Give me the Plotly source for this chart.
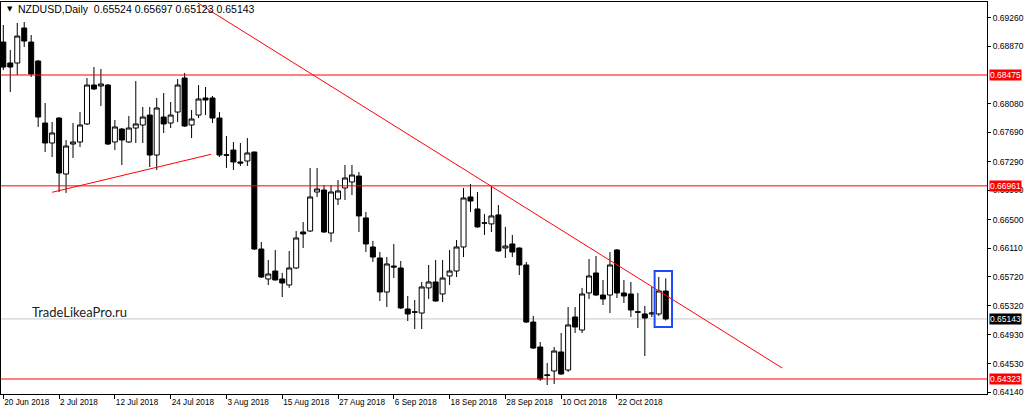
import pandas as pd
import plotly.graph_objects as go

# daily bars, NZDUSD, 20 Jun 2018 .. 31 Oct 2018 (weekdays)
dates = pd.bdate_range("2018-06-20", "2018-10-31")

opens = [0.68925, 0.68639, 0.68639, 0.69117, 0.68925, 0.68666, 0.67819, 0.67546, 0.67887, 0.67123,
         0.67532, 0.67560, 0.67806, 0.68338, 0.68325, 0.68338, 0.67560, 0.67737, 0.67560, 0.67751,
         0.67792, 0.67928, 0.67382, 0.67901, 0.67819, 0.67969, 0.68434, 0.67792, 0.67928, 0.68161,
         0.68161, 0.67887, 0.67385, 0.67450, 0.67287, 0.67300, 0.67423, 0.66098, 0.65689, 0.65798,
         0.65689, 0.65607, 0.65839, 0.66331, 0.66344, 0.66877, 0.66904, 0.66317, 0.66781, 0.66932,
         0.67014, 0.67095, 0.66523, 0.66126, 0.65976, 0.65511, 0.65866, 0.65839, 0.65279, 0.65240,
         0.65224, 0.65567, 0.65648, 0.65484, 0.65730, 0.65798, 0.66126, 0.66809, 0.66645, 0.66456,
         0.66441, 0.66564, 0.66112, 0.66167, 0.66112, 0.65880, 0.65101, 0.64760, 0.64370, 0.64432,
         0.64692, 0.64446, 0.65170, 0.64992, 0.65498, 0.65771, 0.65470, 0.65470, 0.66085, 0.65498,
         0.65484, 0.65240, 0.65211, 0.65211, 0.65211, 0.65524]
highs = [0.69158, 0.68816, 0.69185, 0.69199, 0.69021, 0.68680, 0.68092, 0.67833, 0.67901, 0.67587,
         0.67819, 0.67969, 0.68434, 0.68584, 0.68557, 0.68352, 0.67860, 0.67751, 0.67915, 0.68393,
         0.68038, 0.68038, 0.68161, 0.68229, 0.68106, 0.68420, 0.68502, 0.67997, 0.68338, 0.68311,
         0.68188, 0.67969, 0.67642, 0.67560, 0.67546, 0.67614, 0.67430, 0.66194, 0.65948, 0.66085,
         0.65771, 0.66071, 0.66344, 0.66467, 0.67205, 0.67205, 0.66973, 0.66973, 0.67041, 0.67246,
         0.67246, 0.67150, 0.66604, 0.66209, 0.66057, 0.65989, 0.66167, 0.65935, 0.65457, 0.65402,
         0.65648, 0.65880, 0.65948, 0.65948, 0.66085, 0.66221, 0.66932, 0.66986, 0.66877, 0.66577,
         0.66945, 0.66699, 0.66400, 0.66290, 0.66120, 0.65921, 0.65184, 0.64828, 0.64542, 0.64760,
         0.64951, 0.65306, 0.65306, 0.65567, 0.65962, 0.66003, 0.65675, 0.66057, 0.66098, 0.65675,
         0.65648, 0.65498, 0.65320, 0.65580, 0.65716, 0.65697]
lows = [0.68543, 0.68243, 0.68475, 0.68857, 0.68447, 0.67765, 0.67423, 0.67355, 0.66877, 0.66864,
        0.67342, 0.67491, 0.67792, 0.68270, 0.68051, 0.67519, 0.67450, 0.67246, 0.67546, 0.67546,
        0.67546, 0.67218, 0.67177, 0.67683, 0.67751, 0.67833, 0.67765, 0.67614, 0.67887, 0.67928,
        0.67819, 0.67355, 0.67205, 0.67177, 0.67232, 0.67232, 0.66085, 0.65702, 0.65607, 0.65670,
        0.65443, 0.65567, 0.65825, 0.66112, 0.66331, 0.66809, 0.66317, 0.66194, 0.66699, 0.66768,
        0.66836, 0.66331, 0.66057, 0.65921, 0.65388, 0.65306, 0.65702, 0.65279, 0.65115, 0.65006,
        0.65006, 0.65416, 0.65380, 0.65375, 0.65607, 0.65716, 0.65989, 0.66604, 0.66390, 0.66290,
        0.66331, 0.66060, 0.65976, 0.65989, 0.65743, 0.65088, 0.64733, 0.64296, 0.64241, 0.64255,
        0.64378, 0.64419, 0.64951, 0.64951, 0.65416, 0.65457, 0.65334, 0.65224, 0.65429, 0.65361,
        0.65170, 0.65020, 0.64637, 0.65170, 0.65184, 0.65123]
closes = [0.68584, 0.68584, 0.69007, 0.68939, 0.68488, 0.67901, 0.67546, 0.67683, 0.67136, 0.67505,
          0.67560, 0.67792, 0.68338, 0.68284, 0.68352, 0.67532, 0.67765, 0.67587, 0.67751, 0.67806,
          0.67901, 0.67382, 0.68024, 0.67806, 0.67928, 0.68338, 0.67778, 0.67874, 0.68147, 0.68133,
          0.67887, 0.67382, 0.67380, 0.67287, 0.67273, 0.67410, 0.66098, 0.65716, 0.65757, 0.65675,
          0.65634, 0.65839, 0.66249, 0.66304, 0.66809, 0.66918, 0.66331, 0.66877, 0.66891, 0.67068,
          0.67109, 0.66550, 0.66167, 0.65989, 0.65511, 0.65894, 0.65853, 0.65293, 0.65211, 0.65236,
          0.65580, 0.65648, 0.65388, 0.65702, 0.65798, 0.66126, 0.66795, 0.66754, 0.66400, 0.66452,
          0.66550, 0.66071, 0.66139, 0.66057, 0.65880, 0.65101, 0.64746, 0.64323, 0.64378, 0.64705,
          0.64391, 0.65061, 0.65033, 0.65484, 0.65730, 0.65470, 0.65416, 0.65880, 0.65498, 0.65457,
          0.65265, 0.65236, 0.65156, 0.65224, 0.65525, 0.65143]

# horizontal support / resistance levels and current bid
levels = [0.68475, 0.66961, 0.64323]
bid = 0.65143

# trend lines as (bar, price) anchor pairs
down_line = [(27.9, 0.69458), (111.7, 0.64473)]
up_line = [(7.0, 0.66873), (29.8, 0.67392)]

# highlight box around the last two bars
box_bars = (93.4, 95.9)
box_prices = (0.65033, 0.65798)

# 0.68480 sits under the 0.68475 level tag, so it is left out
price_ticks = [0.69260, 0.68870, 0.68080, 0.67690, 0.67290, 0.66900,
               0.66500, 0.66110, 0.65720, 0.65320, 0.64930, 0.64530, 0.64140]

bars = list(range(len(dates)))
date_ticks = bars[::8]
date_text = [f"{d.day} {d:%b %Y}" for d in dates[::8]]

FONT = "Liberation Sans"

fig = go.Figure()
fig.add_trace(go.Candlestick(
    x=bars, open=opens, high=highs, low=lows, close=closes,
    increasing=dict(line=dict(color="black", width=1), fillcolor="white"),
    decreasing=dict(line=dict(color="black", width=1), fillcolor="black"),
    hoverinfo="skip", showlegend=False))

for pts in (down_line, up_line):
    fig.add_trace(go.Scatter(x=[p[0] for p in pts], y=[p[1] for p in pts], mode="lines",
                             line=dict(color="red", width=1), hoverinfo="skip", showlegend=False))

for lv in levels:
    fig.add_shape(type="line", xref="paper", x0=0, x1=1, y0=lv, y1=lv,
                  line=dict(color="red", width=1))
    fig.add_annotation(xref="paper", x=1, xshift=2, y=lv, text=f"{lv:.5f}", showarrow=False,
                       xanchor="left", bgcolor="red", font=dict(color="white", size=8.5, family=FONT),
                       borderpad=0)
fig.add_shape(type="line", xref="paper", x0=0, x1=1, y0=bid, y1=bid,
              line=dict(color="#c8c8c8", width=1), layer="below")
fig.add_annotation(xref="paper", x=1, xshift=2, y=bid, text=f"{bid:.5f}", showarrow=False,
                   xanchor="left", bgcolor="black", font=dict(color="white", size=8.5, family=FONT),
                   borderpad=0)

fig.add_shape(type="rect", x0=box_bars[0], x1=box_bars[1], y0=box_prices[0], y1=box_prices[1],
              line=dict(color="#1e4bff", width=2))

fig.add_annotation(xref="paper", yref="paper", x=0.004, y=0.982, text="▼", showarrow=False,
                   xanchor="left", yanchor="middle", font=dict(size=7, color="black", family="DejaVu Sans"))
fig.add_annotation(xref="paper", yref="paper", x=0.015, y=0.982,
                   text="NZDUSD,Daily  0.65524 0.65697 0.65123 0.65143", showarrow=False,
                   xanchor="left", yanchor="middle", font=dict(size=10.5, color="black", family=FONT))
fig.add_annotation(xref="paper", yref="paper", x=0.0294, y=0.209, text="TradeLikeaPro.ru",
                   showarrow=False, xanchor="left", yanchor="middle",
                   font=dict(size=13, color="#222222", family="Lato"))

fig.update_layout(
    width=1024, height=413,
    margin=dict(l=1, r=37, t=2, b=19, autoexpand=False),
    paper_bgcolor="white", plot_bgcolor="white",
    boxgap=0.28, boxgroupgap=0,
    font=dict(family=FONT, size=8.5, color="black"),
    xaxis=dict(range=[-0.33, 141.07], tickvals=date_ticks, ticktext=date_text,
               ticks="outside", ticklen=4, tickcolor="black", tickangle=0,
               ticklabelposition="outside right", automargin=False,
               showgrid=False, zeroline=False, showline=True, mirror=True,
               linecolor="black", linewidth=1, rangeslider=dict(visible=False),
               tickfont=dict(size=8.2, family=FONT)),
    yaxis=dict(side="right", range=[0.64118, 0.69472], tickvals=price_ticks,
               ticktext=[f"{t:.5f}" for t in price_ticks], automargin=False,
               ticks="outside", ticklen=3, tickcolor="black",
               showgrid=False, zeroline=False, showline=True, mirror=True,
               linecolor="black", linewidth=1, tickfont=dict(size=8.5, family=FONT)),
)

fig.write_html("out.html", config={"displayModeBar": False},
               post_script="document.body.style.margin='0';")
